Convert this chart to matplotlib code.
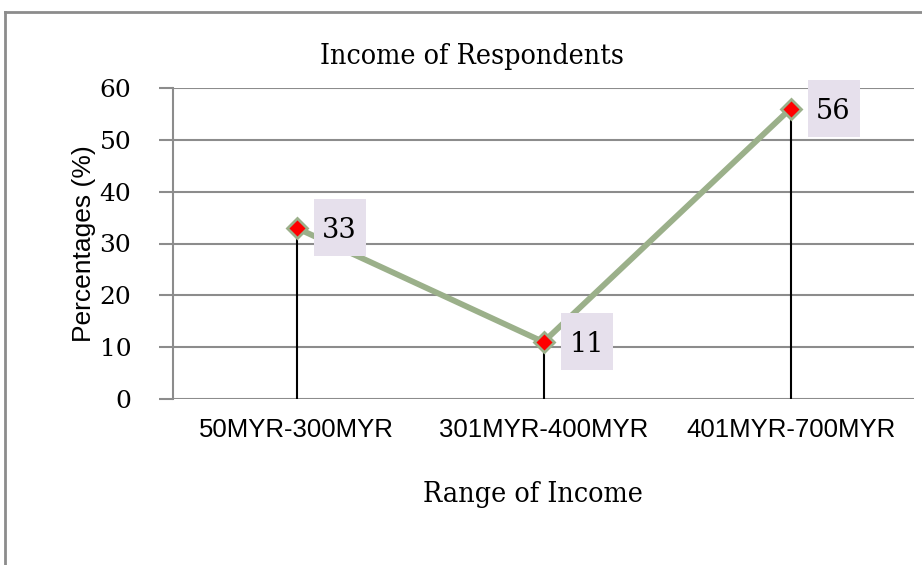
from matplotlib import pyplot as plt
from matplotlib.lines import Line2D
from matplotlib.patches import Rectangle
import matplotlib.transforms as mtransforms

# data
categories = ['50MYR-300MYR', '301MYR-400MYR', '401MYR-700MYR']
percentages = [33, 11, 56]
y_ticks = [0, 10, 20, 30, 40, 50, 60]

serif = ['DejaVu Serif']
sans = ['Liberation Sans', 'DejaVu Sans']

fig = plt.figure(figsize=(9.22, 5.65), dpi=100)
ax = fig.add_axes([173 / 922, 1 - 399 / 565, (914 - 173) / 922, (399 - 88) / 565])

x = list(range(len(categories)))

# drop lines
for xi, v in zip(x, percentages):
    ax.plot([xi, xi], [0, v], color='black', lw=1.5, zorder=3)

ax.plot(x, percentages, color='#9BB08A', lw=4.2, zorder=4,
        marker='D', markersize=10, markerfacecolor='#FF0000',
        markeredgecolor='#9BB08A', markeredgewidth=2)

# data labels: box placed to the right of each point (sizes in inches)
for xi, v in zip(x, percentages):
    trans = fig.dpi_scale_trans + mtransforms.ScaledTranslation(xi, v, ax.transData)
    ax.add_patch(Rectangle((0.17, -0.285), 0.52, 0.57, transform=trans,
                           fc='#E6E0EC', ec='none', zorder=5, clip_on=False))
    ax.text(0.43, 0.0, str(v), transform=trans, ha='center', va='center_baseline',
            fontsize=19.5, family=serif, zorder=6)

ax.set_xlim(-0.5, 2.5)
ax.set_ylim(0, 60)
ax.set_yticks(y_ticks)
ax.set_xticks(x)
ax.set_xticklabels(categories, fontsize=18.5, family=sans)
for lab in ax.get_yticklabels():
    lab.set_fontsize(18)
    lab.set_family(serif)
ax.yaxis.grid(True, color='#8C8C8C', lw=1.5)
ax.set_axisbelow(True)
ax.tick_params(axis='y', length=10, color='#8C8C8C', width=1.5, pad=20)
ax.tick_params(axis='x', length=0, pad=14)
for s in ['top', 'right', 'bottom']:
    ax.spines[s].set_visible(False)
ax.spines['left'].set_color('#8C8C8C')
ax.spines['left'].set_linewidth(1.5)

fig.text(472 / 922, 1 - 57 / 565, 'Income of Respondents', fontsize=20.5,
         family=serif, fontstretch='condensed', ha='center', va='center')
fig.text(533 / 922, 1 - 495 / 565, 'Range of Income', fontsize=20.5,
         family=serif, fontstretch='condensed', ha='center', va='center')
ax.set_ylabel('Percentages (%)', fontsize=19, family=sans)
ax.yaxis.set_label_coords((96 - 173) / 741, 0.5)

# outer frame (top and left only, rest is cropped)
fig.add_artist(Line2D([5 / 922, 1], [1 - 12 / 565] * 2, color='#8C8C8C', lw=2))
fig.add_artist(Line2D([5 / 922] * 2, [0, 1 - 12 / 565], color='#8C8C8C', lw=2))

plt.savefig('out.png', dpi=100)
